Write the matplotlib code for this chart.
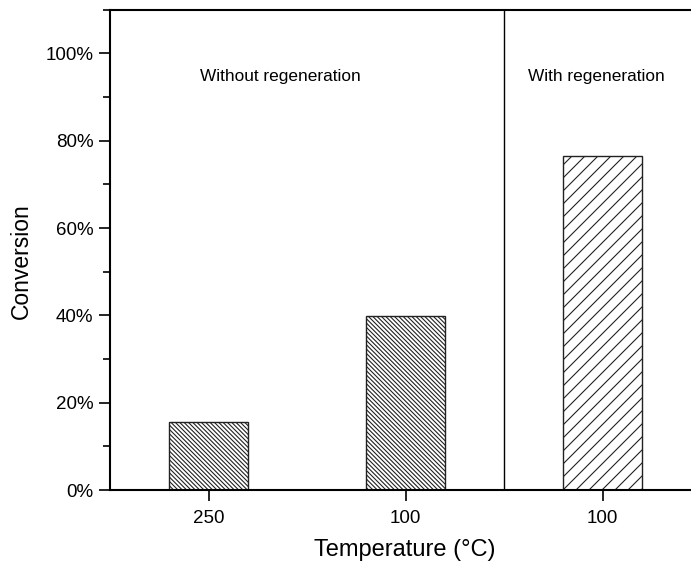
import numpy as np
import matplotlib.pyplot as plt
from matplotlib.ticker import MultipleLocator, PercentFormatter

temps = ["250", "100", "100"]
conversion = [15.6, 39.8, 76.5]
hatches = ["\\" * 6, "\\" * 6, "//"]
groups = ["Without regeneration", "With regeneration"]

# hatch spacing is tied to dpi, so render at 78 dpi and scale point sizes
DPI = 78
s = 100 / DPI

plt.rcParams["font.family"] = ["Liberation Sans", "DejaVu Sans"]
plt.rcParams["hatch.linewidth"] = 0.8 * s

fig = plt.figure(figsize=(691.3 / DPI, 565.3 / DPI), dpi=DPI)
ax = fig.add_axes([110 / 691, 75 / 565, 1 - 110 / 691, 480 / 565])

x = np.arange(1, len(conversion) + 1)
for xi, val, h in zip(x, conversion, hatches):
    ax.bar(xi, val, width=0.4, facecolor="white", edgecolor="#222222",
           linewidth=1.0 * s, hatch=h, zorder=2)

ax.axvline(2.5, color="black", linewidth=1.0 * s)
ax.text(1.365, 94.7, groups[0], ha="center", va="center", fontsize=12.4 * s)
ax.text(2.97, 94.7, groups[1], ha="center", va="center", fontsize=12.4 * s)

ax.set_xlim(0.5, 3.45)
ax.set_ylim(0, 110)
ax.set_xticks(x, temps)
ax.yaxis.set_major_locator(MultipleLocator(20))
ax.yaxis.set_minor_locator(MultipleLocator(10))
ax.yaxis.set_major_formatter(PercentFormatter(decimals=0))
ax.tick_params(axis="both", which="major", length=8 * s, width=1.2 * s,
               labelsize=13.5 * s, direction="out")
ax.tick_params(axis="y", which="minor", length=5 * s, width=1.2 * s)
ax.tick_params(axis="y", pad=4 * s)
ax.tick_params(axis="x", pad=6 * s)

for side in ["left", "bottom", "top"]:
    ax.spines[side].set_linewidth(1.5 * s)
ax.spines["right"].set_visible(False)

ax.set_xlabel("Temperature (°C)", fontsize=17 * s)
ax.set_ylabel("Conversion", fontsize=16.5 * s)
ax.xaxis.set_label_coords((405 - 110) / 581, -0.102)
ax.yaxis.set_label_coords(-0.133, 0.478)

plt.savefig("out.png", dpi=DPI)
